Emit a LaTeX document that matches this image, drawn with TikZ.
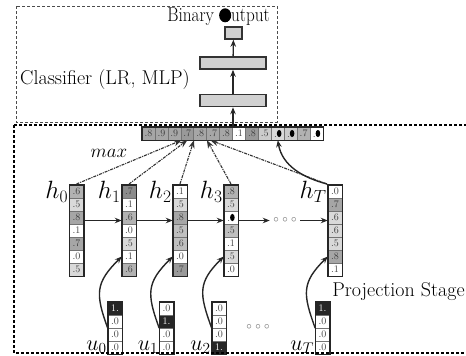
\RequirePackage{fix-cm}
\documentclass[tikz,border=0pt]{standalone}
\usepackage{fontspec}
\usetikzlibrary{arrows.meta,positioning,fit,calc}
\newcommand{\blob}{\tikz[baseline=0pt]\fill[black] (0pt,3.6pt) ellipse [x radius=2.3pt, y radius=3.6pt];}
\newcommand{\bigblob}{\tikz[baseline=0pt]\fill[black] (0pt,6.5pt) ellipse [x radius=7pt, y radius=7pt];}

\begin{document}
\begin{tikzpicture}[
    x=1pt, y=-1pt,
    cell/.style={rectangle, draw=black!55, line width=0.5pt, minimum width=14pt, minimum height=13pt, inner sep=0pt, font=\fontsize{10}{10}\selectfont, text=black!75},
    colframe/.style={rectangle, draw=black!85, line width=1.5pt, inner sep=0pt},
    layer/.style={rectangle, draw=black!80, fill=black!18, line width=1.5pt, minimum width=66pt, minimum height=12pt, inner sep=0pt},
    biglabel/.style={font=\fontsize{20}{22}\selectfont, inner sep=0pt},
    hlabel/.style={font=\fontsize{25}{27}\selectfont, inner sep=1pt},
    ulabel/.style={font=\fontsize{22}{24}\selectfont, inner sep=1pt},
    dotsnode/.style={font=\fontsize{11}{11}\selectfont, text=black!60},
    classbox/.style={densely dashed, line width=0.6pt, black!70},
    projbox/.style={densely dashed, line width=1.5pt, black},
    arrow/.style={-{Stealth[length=7pt, width=5.5pt]}, line width=1.3pt, black!85},
    maxarrow/.style={-{Stealth[length=8pt, width=6pt]}, line width=1.1pt, densely dash dot, black!80},
    curvearrow/.style={-{Stealth[length=7pt, width=5.5pt]}, line width=1.4pt, black!85}
]
    \useasboundingbox (0,0) rectangle (466,356);

    % Classifier
    \draw[classbox] (16,6) rectangle (277,122);
    \node[layer] (fc1) at (233,100.5) {};
    \node[layer] (fc2) at (233,63) {};
    \node[layer, minimum width=17pt] (outb) at (233.5,33) {};
    \node[biglabel] (clf) at (105,80) {Classifier (LR, MLP)};
    \node[biglabel] (bout) at (218.5,17) {\scalebox{0.86}[1]{Binary \bigblob utput}};

    % max vector
    \foreach \v/\f [count=\i] in {.8/35,.9/35,.9/35,.7/40,.8/35,.7/35,.8/35,.1/0,.8/40,.5/20,.\blob/15,.\blob/20,.7/30,.\blob/0}
        \node[cell, minimum width=12.93pt, fill=black!\f] (m\i) at ({142+12.93*(\i-0.5)},133.5) {\v};
    \node[colframe, fit=(m1)(m14)] (mx) {};
    \node[font=\fontsize{19}{20}\selectfont, inner sep=0pt] (maxl) at (109,153) {$max$};

    % Projection stage
    \foreach \col/\cx/\vals in {
        h0/76.5/{.6/30,.5/15,.8/35,.1/0,.7/35,.0/0,.5/15},
        h1/129/{.7/45,.1/0,.6/30,.0/0,.5/15,.1/0,.6/30},
        h2/180/{.1/0,.5/15,.8/35,.5/25,.6/25,.0/0,.7/40},
        h3/231/{.8/30,.5/15,.\blob/0,.5/25,.1/0,.5/15,.0/0},
        hT/335/{.0/0,.7/35,.6/15,.6/15,.5/15,.8/35,.1/0}}
    {
        \foreach \v/\f [count=\i] in \vals
            \node[cell, fill=black!\f] (\col-\i) at (\cx,{185+13*\i-6.5}) {\v};
        \node[colframe, fit=(\col-1)(\col-7)] (\col) {};
    }
    \foreach \col/\cx/\vals in {
        u0/115/{1./85/white,.0/0/black!75,.0/0/black!75,.0/0/black!75},
        u1/166.5/{.0/0/black!75,1./85/white,.0/0/black!75,.0/0/black!75},
        u2/219/{.0/0/black!75,.0/0/black!75,.0/0/black!75,1./85/white},
        uT/322.5/{1./85/white,.0/0/black!75,.0/0/black!75,.0/0/black!75}}
    {
        \foreach \v/\f/\t [count=\i] in \vals
            \node[cell, fill=black!\f, text=\t] (\col-\i) at (\cx,{302+13*\i-6.5}) {\v};
        \node[colframe, fit=(\col-1)(\col-4)] (\col) {};
    }

    \node[hlabel, left=0pt of h0-1] (lh0) {$h_0$};
    \node[hlabel, left=0pt of h1-1] (lh1) {$h_1$};
    \node[hlabel, left=0pt of h2-1] (lh2) {$h_2$};
    \node[hlabel, left=0pt of h3-1] (lh3) {$h_3$};
    \node[hlabel, left=0pt of hT-1] (lhT) {$h_T$};
    \node[ulabel, left=0pt of u0-4] (lu0) {$u_0$};
    \node[ulabel, left=0pt of u1-4] (lu1) {$u_1$};
    \node[ulabel, left=0pt of u2-4] (lu2) {$u_2$};
    \node[ulabel, left=0pt of uT-4] (luT) {$u_T$};

    \node[dotsnode] (hdots) at (285,220.5) {$\circ$\hspace{3.5pt}$\circ$\hspace{3.5pt}$\circ$};
    \node[dotsnode] (udots) at (258,327) {$\circ$\hspace{3.5pt}$\circ$\hspace{3.5pt}$\circ$};
    \node[biglabel] (proj) at (398.5,292) {Projection Stage};

    \draw[projbox] (14,125) rectangle (480,353);

    % connectors
    \draw[arrow] (mx.north -| fc1.south) -- (fc1.south);
    \draw[arrow] (fc1) -- (fc2);
    \draw[arrow] (fc2) -- (outb);
    \draw[arrow] ([yshift=-3pt]h0-3.east) -- ([yshift=-3pt]h1-3.west);
    \draw[arrow] ([yshift=-3pt]h1-3.east) -- ([yshift=-3pt]h2-3.west);
    \draw[arrow] ([yshift=-3pt]h2-3.east) -- ([yshift=-3pt]h3-3.west);
    \draw[arrow] ([yshift=-3pt]h3-3.east) -- (hdots.west);
    \draw[arrow] (hdots.east) -- ([yshift=-3pt]hT-3.west);
    \draw[maxarrow] (h0.north) -- ([xshift=1pt]m4.south west);
    \draw[maxarrow] (h1.north) -- (m4.south);
    \draw[maxarrow] (h2.north) -- (m4.south east);
    \draw[maxarrow] (h3.north) -- (m5.south east);
    \draw[maxarrow] (hT.north west) -- ([xshift=4pt]m6.south west);
    \draw[curvearrow] (hT.north west) to[out=165, in=-80] (m11.south);
    \draw[curvearrow] (u0-2.south west) to[out=110, in=-135, looseness=1.3] (h1-6.west);
    \draw[curvearrow] (u1-2.south west) to[out=110, in=-135, looseness=1.3] (h2-6.west);
    \draw[curvearrow] (u2-2.south west) to[out=110, in=-135, looseness=1.3] (h3-6.west);
    \draw[curvearrow] (uT-2.south west) to[out=110, in=-135, looseness=1.3] (hT-6.west);
\end{tikzpicture}
\end{document}
